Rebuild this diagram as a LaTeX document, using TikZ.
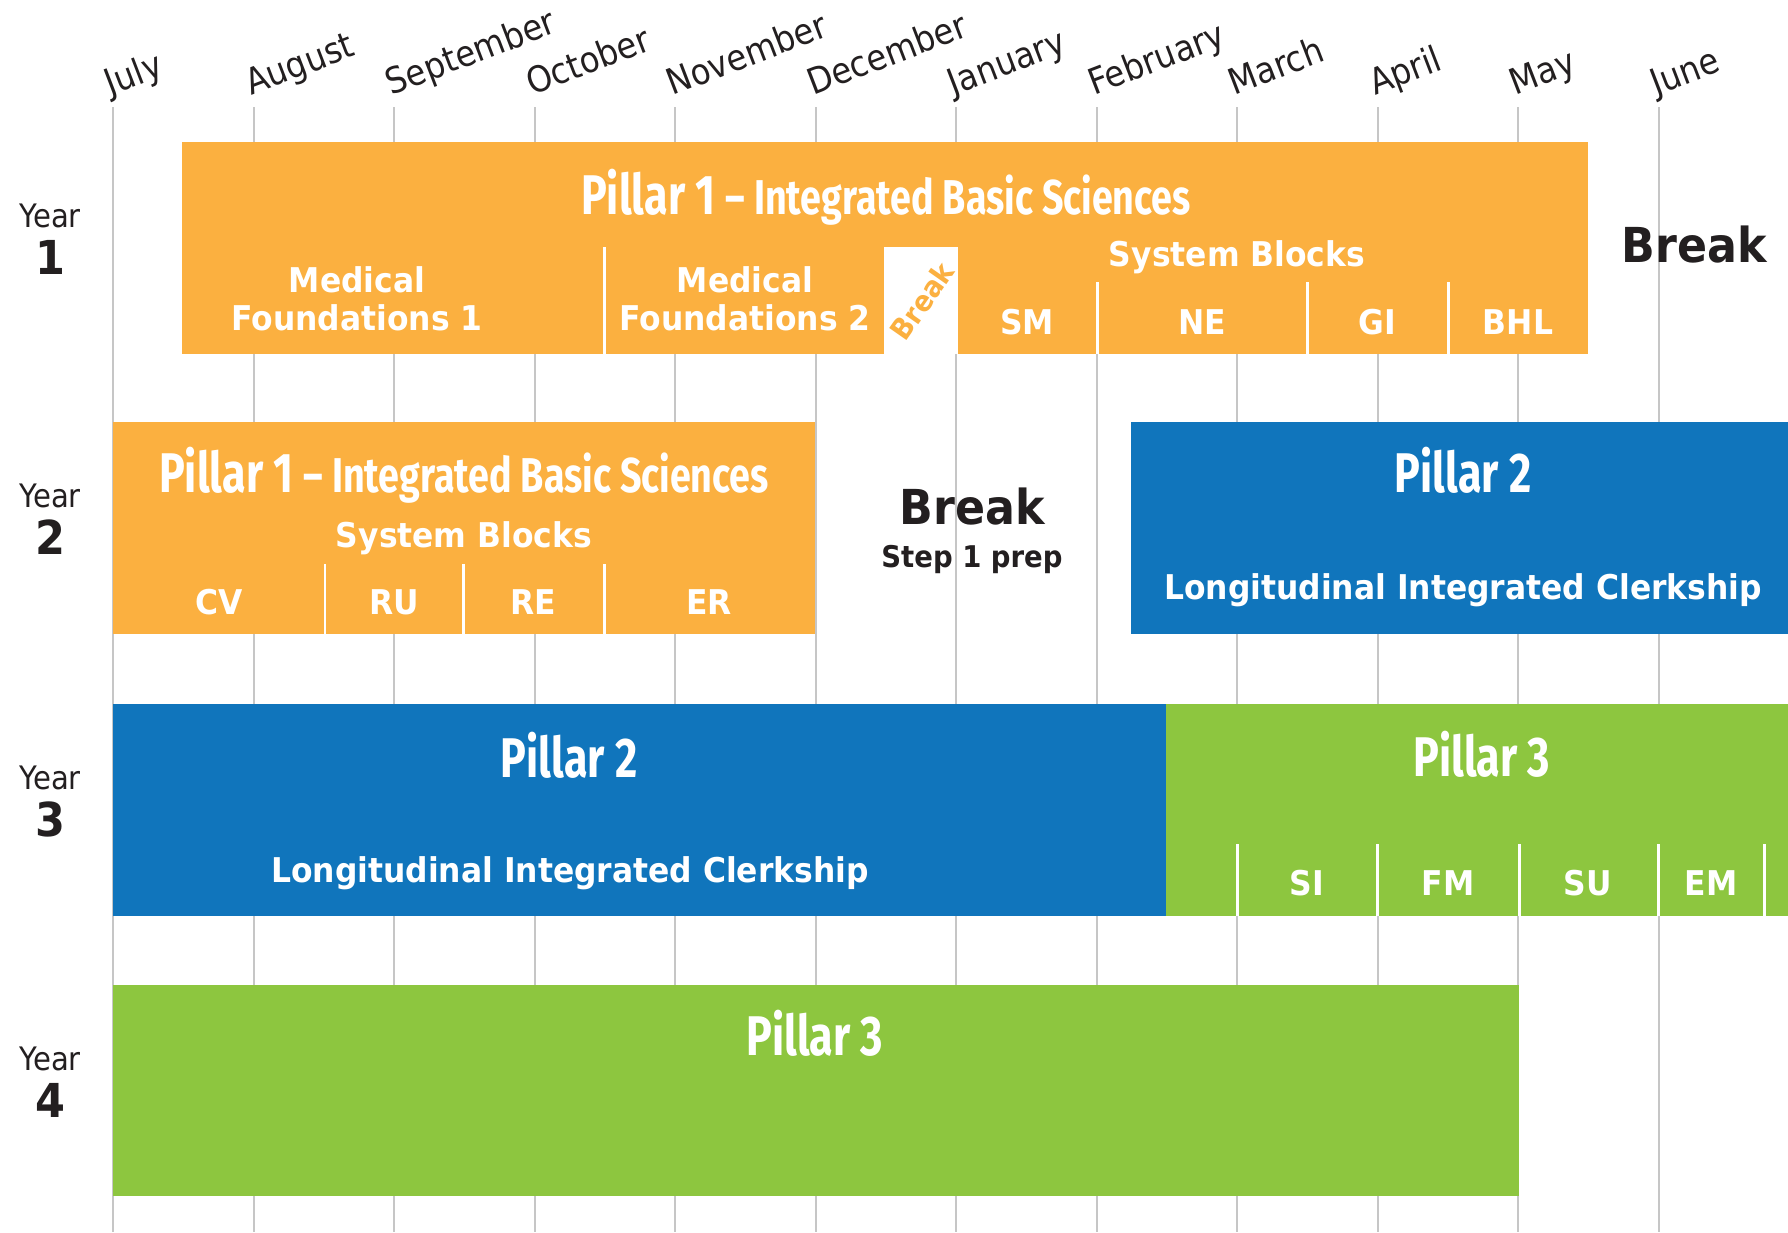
\documentclass[tikz,border=0pt]{standalone}
\usepackage{fontspec}
\setmainfont{DejaVu Sans}
\newfontfamily\pillarfont[FakeStretch=0.77]{Fira Sans}
\newfontfamily\labelfont[FakeStretch=0.92]{DejaVu Sans}
\newfontfamily\plainfont[FakeStretch=0.9]{DejaVu Sans}
\definecolor{pillarorange}{HTML}{FBB040}
\definecolor{pillarblue}{HTML}{1075BC}
\definecolor{pillargreen}{HTML}{8DC63F}
\definecolor{ink}{HTML}{231F20}
\definecolor{gridgray}{HTML}{C6C6C6}
\newcommand{\pillarsub}[1]{{\fontsize{13.9}{15}\selectfont #1}}

\begin{document}
\begin{tikzpicture}[
  x=0.01cm,y=-0.01cm,
  title/.style={font=\pillarfont\bfseries\fontsize{15.9}{17}\selectfont,text=white,anchor=base,inner sep=0pt},
  block/.style={font=\labelfont\bfseries\fontsize{9.7}{10.8}\selectfont,text=white,anchor=base,inner sep=0pt,align=center},
  month/.style={font=\plainfont\fontsize{10.2}{11}\selectfont,text=ink,anchor=base west,inner sep=0pt,rotate=21},
  yearlab/.style={font=\plainfont\fontsize{9.2}{10}\selectfont,text=ink,anchor=base,inner sep=0pt},
  yearnum/.style={font=\labelfont\bfseries\fontsize{13.3}{14}\selectfont,text=ink,anchor=base,inner sep=0pt},
  pause/.style={font=\labelfont\bfseries\fontsize{13.7}{15}\selectfont,text=ink,anchor=base,inner sep=0pt},
  split/.style={draw=white,line width=0.85pt}
]
\useasboundingbox (0,0) rectangle (1788,1232);

% month grid
\foreach \m [count=\i from 0] in {July,August,September,October,November,December,January,February,March,April,May,June}{
  \draw[gridgray,line width=0.57pt] (113+140.5*\i,107) -- (113+140.5*\i,1232);
  \node[month] (m\i) at (110+140.5*\i,96) {\m};
}

% year labels
\foreach \t [count=\k] in {142,422,704,985}{
  \node[yearlab] (year\k) at (50,\t+85) {Year};
  \node[yearnum] (num\k) at (50,\t+132) {\k};
}

% Year 1
\fill[pillarorange] (182,142) rectangle (1588,354);
\fill[white] (884,247) rectangle (958,354);
\draw[split] (604,247) -- (604,354);
\foreach \x in {1097,1307,1448} \draw[split] (\x,282) -- (\x,354);
\node[title] (y1title) at (886,214) {Pillar 1 \pillarsub{– Integrated Basic Sciences}};
\node[block] (mf1) at (357,330) {Medical\\Foundations 1};
\node[block] (mf2) at (745,330) {Medical\\Foundations 2};
\node[font=\labelfont\bfseries\fontsize{8.2}{9}\selectfont,text=pillarorange,rotate=55,inner sep=0pt] (y1pause) at (922,301) {Break};
\node[block] (y1sys) at (1237,266) {System Blocks};
\node[block] (sm) at (1027,334) {SM};
\node[block] (ne) at (1202,334) {NE};
\node[block] (gi) at (1377,334) {GI};
\node[block] (bhl) at (1518,334) {BHL};
\node[pause] (y1break) at (1694,262) {Break};

% Year 2
\fill[pillarorange] (113,422) rectangle (815,634);
\foreach \x in {325,463,604} \draw[split] (\x,564) -- (\x,634);
\node[title] (y2title) at (464,492) {Pillar 1 \pillarsub{– Integrated Basic Sciences}};
\node[block] (y2sys) at (464,547) {System Blocks};
\node[block] (cv) at (219,614) {CV};
\node[block] (ru) at (394,614) {RU};
\node[block] (re) at (533,614) {RE};
\node[block] (er) at (709,614) {ER};
\node[pause] (y2break) at (972,524) {Break};
\node[pause,font=\labelfont\bfseries\fontsize{8.5}{10}\selectfont] (step1) at (972,567) {Step 1 prep};
\fill[pillarblue] (1131,422) rectangle (1788,634);
\node[title] (y2clerk) at (1463,492) {Pillar 2};
\node[block] (y2lic) at (1463,599) {Longitudinal Integrated Clerkship};

% Year 3
\fill[pillarblue] (113,704) rectangle (1166,916);
\fill[pillargreen] (1166,704) rectangle (1788,916);
\foreach \x in {1237,1377,1519,1658,1764} \draw[split] (\x,844) -- (\x,916);
\node[title] (y3clerk) at (569,777) {Pillar 2};
\node[block] (y3lic) at (570,882) {Longitudinal Integrated Clerkship};
\node[title] (y3clin) at (1482,776) {Pillar 3};
\node[block] (si) at (1307,895) {SI};
\node[block] (fm) at (1448,895) {FM};
\node[block] (su) at (1588,895) {SU};
\node[block] (em) at (1711,895) {EM};

% Year 4
\fill[pillargreen] (113,985) rectangle (1519,1196);
\node[title] (y4clin) at (815,1055) {Pillar 3};
\end{tikzpicture}
\end{document}
